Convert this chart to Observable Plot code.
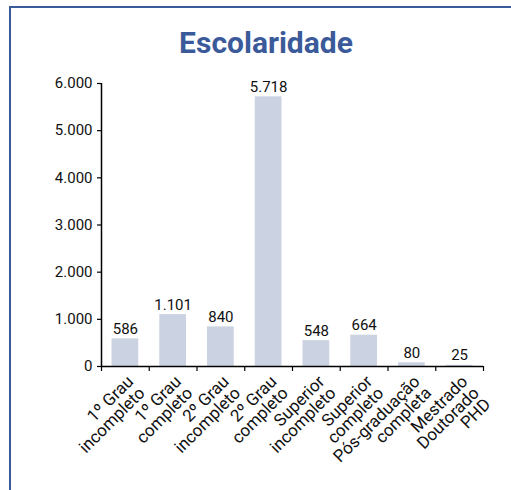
<!DOCTYPE html>
<html>
<head>
<meta charset="utf-8">
<script src="https://cdn.jsdelivr.net/npm/d3@7"></script>
<script src="https://cdn.jsdelivr.net/npm/@observablehq/plot@0.6"></script>
<style>
  html, body { margin: 0; padding: 0; background: #fff; overflow: hidden; width: 511px; height: 490px; }
  #frame { position: absolute; left: 9px; top: 6px; width: 560px; height: 560px; border-left: 2.5px solid #3b5a9a; border-top: 2.5px solid #3b5a9a; box-sizing: border-box; }
  #title { position: absolute; left: 9px; width: 514px; top: 28px; text-align: center; font-family: Roboto, "Liberation Sans", sans-serif; font-weight: bold; font-size: 30px; line-height: 30px; color: #3b5a9a; }
  #chart { position: absolute; left: 0; top: 70px; }
</style>
</head>
<body>
<div id="frame"></div>
<div id="title">Escolaridade</div>
<div id="chart"></div>
<script>
const categories = [
  "1º Grau\nincompleto",
  "1º Grau\ncompleto",
  "2º Grau\nincompleto",
  "2º Grau\ncompleto",
  "Superior\nincompleto",
  "Superior\ncompleto",
  "Pós-graduação\ncompleta",
  "Mestrado\nDoutorado\nPHD"
];
const values = [586, 1101, 840, 5718, 548, 664, 80, 25];
const yTicks = [0, 1000, 2000, 3000, 4000, 5000, 6000];

const ptBR = d3.formatLocale({decimal: ",", thousands: ".", grouping: [3], currency: ["R$", ""]});
const fmt = ptBR.format(",d");

const data = categories.map((c, i) => ({cat: c, value: values[i], i}));
const n = categories.length;
const font = "Roboto, 'Liberation Sans', sans-serif";

const chart = Plot.plot({
  width: 511,
  height: 420,
  marginTop: 13,
  marginBottom: 124,
  marginLeft: 101,
  marginRight: 28,
  style: {fontFamily: font, fontSize: "15px", color: "#111", background: "transparent"},
  x: {type: "linear", domain: [0, n], axis: null},
  y: {domain: [0, 6000], axis: null},
  marks: [
    Plot.rectY(data, {x1: d => d.i + 0.22, x2: d => d.i + 0.78, y: "value", fill: "#cbd3e3"}),
    Plot.axisY({ticks: yTicks, tickFormat: fmt, tickSize: 4, tickPadding: 5, label: null, fontSize: 15, stroke: "#000", strokeWidth: 1.2}),
    Plot.axisX({ticks: d3.range(n + 1), tickFormat: () => "", tickSize: 5, label: null, stroke: "#000", strokeWidth: 1.2}),
    Plot.ruleY([0], {stroke: "#000", strokeWidth: 1.5}),
    Plot.ruleX([0], {y1: 0, y2: 6000, stroke: "#000", strokeWidth: 1.5}),
    Plot.text(data, {x: d => d.i + 0.5, y: "value", text: d => fmt(d.value), lineAnchor: "bottom", dy: -5, fontSize: 15, fill: "#111"}),
    Plot.text(data, {x: d => d.i + 0.5, y: 0, text: "cat", rotate: -45, textAnchor: "end", lineAnchor: "top", lineHeight: 0.95, dx: 1, dy: 8, fontSize: 17, fill: "#111"})
  ]
});
document.getElementById("chart").appendChild(chart);
</script>
</body>
</html>
